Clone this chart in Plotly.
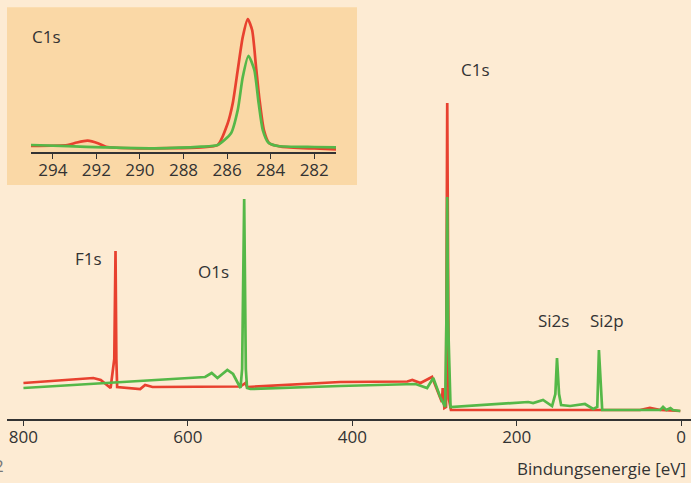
import plotly.graph_objects as go

# ---- main survey spectrum (binding energy in eV, intensity in arbitrary units)
red_E = [800, 715, 706, 694, 689.5, 688, 687, 686, 658, 652, 643, 536, 530, 528,
         415, 333, 327, 317, 303, 297, 291, 290, 288, 286, 285.5, 284.5, 283.5,
         282.5, 280, 50, 38, 25, 1]
red_I = [36, 41, 39, 31, 60, 168, 60, 32, 30, 34, 32, 32.5, 36, 32,
         37, 37.5, 39, 36, 42, 29, 17, 31, 11, 12, 150, 316, 150,
         20, 9, 9, 11, 9, 8]

green_E = [800, 579, 571, 564, 552, 545, 536, 534, 531.5, 529.5, 528, 524, 415,
           323, 309, 301.5, 293, 287, 285.5, 284.5, 283.5, 280.5, 186, 180, 168,
           157, 153, 151, 148.5, 146, 135, 117, 107, 102, 100, 97, 96, 25.5, 22,
           18, 13, 10, 1]
green_I = [31, 42, 46, 41, 49, 45, 31, 50, 220, 50, 31, 30, 33,
           35, 31, 41, 22, 12, 100, 222, 100, 12, 17, 16, 19,
           13, 25, 61, 25, 14, 13, 15, 10, 12, 69, 12, 9, 9, 12,
           9, 11, 9, 8]

# ---- inset: C1s detail
ins_red_E = [295.0, 293.33, 292.9, 292.4, 291.9, 291.56, 290.1, 287.2, 286.43,
             285.97, 285.74, 285.51, 285.28, 285.05, 284.85, 284.67, 284.51,
             284.31, 284.06, 283.52, 282.0, 281.0]
ins_red_I = [6, 7, 9.5, 11.3, 8.5, 5.3, 3.7, 4.7, 7,
             28.7, 48.7, 82, 115, 133, 122, 85, 52,
             22, 8.7, 5.3, 3.5, 2.7]
ins_green_E = [295.0, 293.3, 291.66, 289.36, 287.2, 286.43, 285.82, 285.51,
               285.28, 285.02, 284.75, 284.55, 284.36, 284.1, 283.67, 282.0, 281.0]
ins_green_I = [7, 5.8, 4.7, 3.7, 5.3, 7, 18.7, 42,
               75, 96.3, 82, 48.7, 22, 9.3, 6, 5, 4.7]

main_ticks = [800, 600, 400, 200, 0]
inset_ticks = [294, 292, 290, 288, 286, 284, 282]

peak_labels = ["C1s", "F1s", "O1s", "Si2s", "Si2p"]
peak_label_E = [250.5, 721, 569, 155.6, 90]
peak_label_I = [350, 161, 148, 99, 99]

RED = "#E8412F"
GREEN = "#55B848"
BG = "#FDEBD3"
INSET_BG = "#FAD8A6"
TXT = "#333333"
FONT = "Open Sans"
FS = 17

fig = go.Figure()
fig.add_trace(go.Scatter(x=red_E, y=red_I, mode="lines",
                         line=dict(color=RED, width=2.7), showlegend=False))
fig.add_trace(go.Scatter(x=green_E, y=green_I, mode="lines",
                         line=dict(color=GREEN, width=2.7), showlegend=False))
fig.add_trace(go.Scatter(x=ins_red_E, y=ins_red_I, mode="lines", xaxis="x2", yaxis="y2",
                         line=dict(color=RED, width=2.7, shape="spline", smoothing=0.6),
                         showlegend=False))
fig.add_trace(go.Scatter(x=ins_green_E, y=ins_green_I, mode="lines", xaxis="x2", yaxis="y2",
                         line=dict(color=GREEN, width=2.7, shape="spline", smoothing=0.6),
                         showlegend=False))

annotations = []
for t, xe, yi in zip(peak_labels, peak_label_E, peak_label_I):
    annotations.append(dict(x=xe, y=yi, xref="x", yref="y", text=t, showarrow=False,
                            font=dict(family=FONT, size=FS, color=TXT)))
annotations.append(dict(x=0.9956, y=-0.12, xref="paper", yref="paper",
                        text="Bindungsenergie [eV]", showarrow=False,
                        xanchor="right", yanchor="middle",
                        font=dict(family=FONT, size=FS, color=TXT)))
annotations.append(dict(x=0.0336, y=0.934, xref="paper", yref="paper", text="C1s",
                        showarrow=False, xanchor="left", yanchor="middle",
                        font=dict(family=FONT, size=FS, color=TXT)))
annotations.append(dict(x=-0.022, y=-0.113, xref="paper", yref="paper", text="2",
                        showarrow=False, xanchor="left", yanchor="middle",
                        font=dict(family=FONT, size=FS, color="#777777")))

axis_common = dict(ticks="outside", ticklen=5, tickcolor=TXT, tickwidth=1.2,
                   showline=True, linecolor=TXT, linewidth=1.5, showgrid=False,
                   zeroline=False, automargin=False, ticklabelstandoff=-3,
                   tickfont=dict(family=FONT, size=FS, color=TXT))

fig.update_layout(
    width=691, height=483,
    margin=dict(l=7, r=0, t=10, b=64, autoexpand=False),
    paper_bgcolor=BG, plot_bgcolor="rgba(0,0,0,0)",
    font=dict(family=FONT, size=FS, color=TXT),
    xaxis=dict(range=[820, -12], tickvals=main_ticks, **axis_common),
    yaxis=dict(range=[0, 409], visible=False, showgrid=False, zeroline=False,
               automargin=False),
    xaxis2=dict(domain=[0.0351, 0.481], anchor="y2", range=[295, 281],
                tickvals=inset_ticks, **axis_common),
    yaxis2=dict(domain=[0.6528, 0.995], anchor="x2", range=[0, 140], visible=False,
                showgrid=False, zeroline=False, automargin=False),
    shapes=[dict(type="rect", xref="paper", yref="paper", x0=0, x1=0.5117,
                 y0=0.572, y1=1.007, fillcolor=INSET_BG, line=dict(width=0),
                 layer="below")],
    annotations=annotations,
)

fig.write_html(
    "out.html",
    config={"displayModeBar": False},
    post_script="document.body.style.margin='0';document.body.style.padding='0';"
                "document.body.style.overflow='hidden';",
)
